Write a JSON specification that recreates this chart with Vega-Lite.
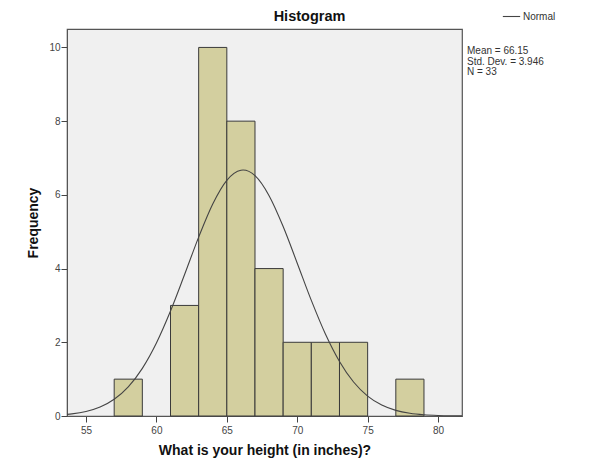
{
  "$schema": "https://vega.github.io/schema/vega-lite/v6.json",
  "autosize": "none",
  "width": 395,
  "height": 387,
  "padding": {"left": 67, "top": 29, "right": 136, "bottom": 56},
  "background": "#ffffff",
  "config": {
    "font": "Liberation Sans",
    "view": {"fill": "#f0f0f0", "stroke": "#555555", "strokeWidth": 1.2},
    "axis": {"grid": false, "labelFontSize": 10, "labelColor": "#444444", "tickColor": "#444444", "domainColor": "#555555", "tickSize": 6, "titleFont": "Liberation Sans", "titleFontWeight": "bold", "titleFontSize": 14, "titleColor": "#111111"}
  },
  "title": {"text": "Histogram", "fontSize": 14.5, "fontWeight": "bold", "font": "Liberation Sans", "color": "#111111", "dx": 45, "dy": 23, "offset": 6},
  "datasets": {
    "bins": [
      {"bin_start": 57, "bin_end": 59, "count": 1},
      {"bin_start": 61, "bin_end": 63, "count": 3},
      {"bin_start": 63, "bin_end": 65, "count": 10},
      {"bin_start": 65, "bin_end": 67, "count": 8},
      {"bin_start": 67, "bin_end": 69, "count": 4},
      {"bin_start": 69, "bin_end": 71, "count": 2},
      {"bin_start": 71, "bin_end": 73, "count": 2},
      {"bin_start": 73, "bin_end": 75, "count": 2},
      {"bin_start": 77, "bin_end": 79, "count": 1}
    ],
    "curve": [
      {"height": 53.65, "density": 0.0442},
      {"height": 54, "density": 0.0583},
      {"height": 55, "density": 0.1232},
      {"height": 56, "density": 0.2442},
      {"height": 57, "density": 0.4539},
      {"height": 58, "density": 0.7907},
      {"height": 59, "density": 1.2926},
      {"height": 60, "density": 1.981},
      {"height": 61, "density": 2.847},
      {"height": 62, "density": 3.838},
      {"height": 63, "density": 4.853},
      {"height": 64, "density": 5.753},
      {"height": 65, "density": 6.395},
      {"height": 66, "density": 6.668},
      {"height": 66.15, "density": 6.673},
      {"height": 67, "density": 6.52},
      {"height": 68, "density": 5.978},
      {"height": 69, "density": 5.141},
      {"height": 70, "density": 4.146},
      {"height": 71, "density": 3.136},
      {"height": 72, "density": 2.224},
      {"height": 73, "density": 1.479},
      {"height": 74, "density": 0.922},
      {"height": 75, "density": 0.5396},
      {"height": 76, "density": 0.296},
      {"height": 77, "density": 0.1523},
      {"height": 78, "density": 0.0735},
      {"height": 79, "density": 0.0333},
      {"height": 80, "density": 0.0141},
      {"height": 81, "density": 0.0056},
      {"height": 81.7, "density": 0.0028}
    ],
    "stats": [
      {"label": "Mean = 66.15\nStd. Dev. = 3.946\nN = 33", "xpos": 81.7, "ypos": 10}
    ]
  },
  "layer": [
    {
      "data": {"name": "bins"},
      "mark": {"type": "rect", "fill": "#d3cf9f", "stroke": "#3a3a3a", "strokeWidth": 1},
      "encoding": {
        "x": {"field": "bin_start", "type": "quantitative", "scale": {"domain": [53.65, 81.7], "nice": false, "zero": false}, "axis": {"values": [55, 60, 65, 70, 75, 80], "title": "What is your height (in inches)?", "titlePadding": 8, "labelPadding": 3}},
        "x2": {"field": "bin_end"},
        "y": {"field": "count", "type": "quantitative", "scale": {"domain": [0, 10.5], "nice": false}, "axis": {"values": [0, 2, 4, 6, 8, 10], "title": "Frequency", "titlePadding": 8, "labelPadding": 1}},
        "y2": {"datum": 0}
      }
    },
    {
      "data": {"name": "curve"},
      "mark": {"type": "line", "strokeWidth": 1.1, "interpolate": "monotone"},
      "encoding": {
        "x": {"field": "height", "type": "quantitative"},
        "y": {"field": "density", "type": "quantitative"},
        "color": {"datum": "Normal", "type": "nominal", "scale": {"range": ["#444444"]}, "legend": {"title": null, "orient": "none", "legendX": 435, "legendY": -22, "symbolType": "stroke", "symbolSize": 300, "symbolStrokeWidth": 1.1, "labelFontSize": 10, "labelOffset": 2, "labelColor": "#333333", "labelFont": "Liberation Sans"}}
      }
    },
    {
      "data": {"name": "stats"},
      "mark": {"type": "text", "align": "left", "baseline": "top", "fontSize": 10, "lineHeight": 10.5, "lineBreak": "\n", "dx": 5, "dy": -1, "color": "#333333", "font": "Liberation Sans"},
      "encoding": {
        "x": {"field": "xpos", "type": "quantitative"},
        "y": {"field": "ypos", "type": "quantitative"},
        "text": {"field": "label"}
      }
    }
  ]
}
